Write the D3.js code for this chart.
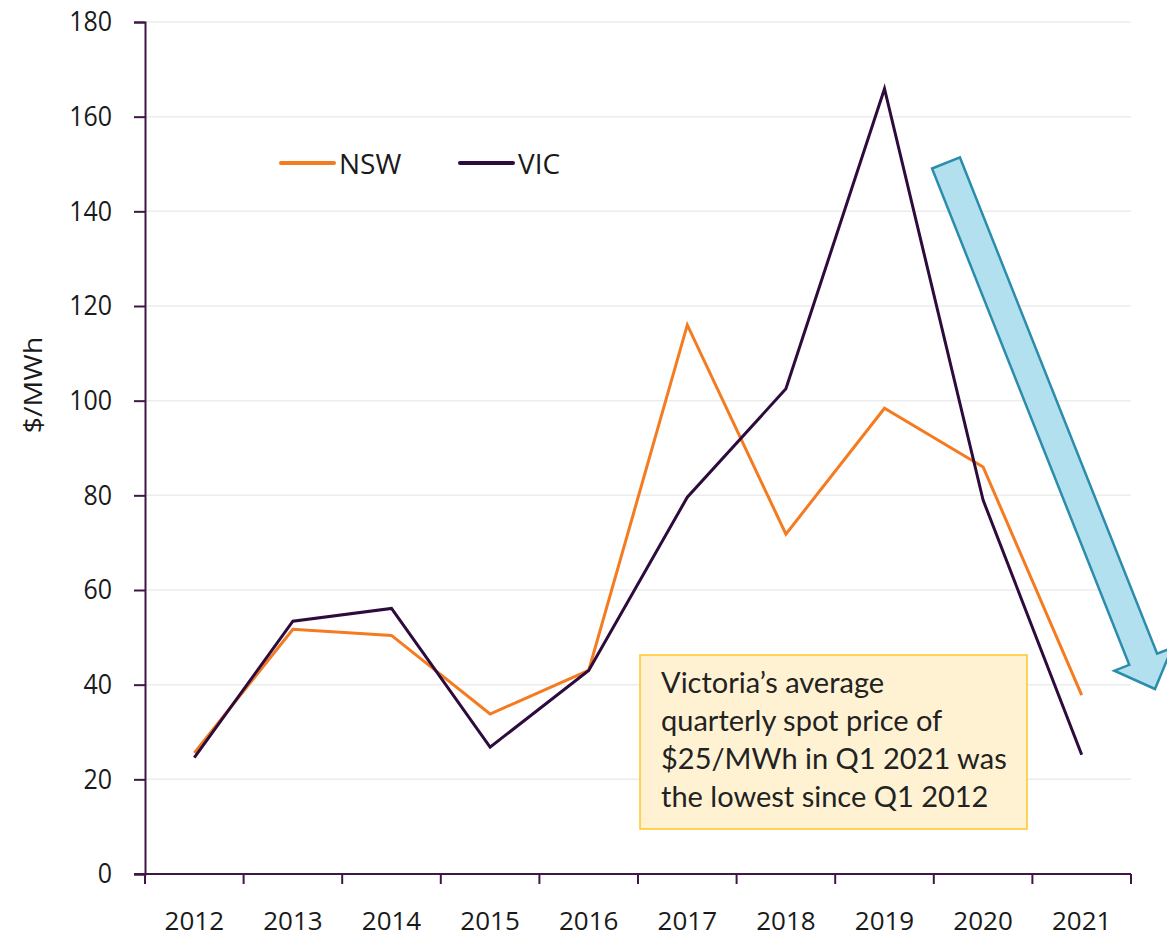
<!DOCTYPE html>
<html>
<head>
<meta charset="utf-8">
<script src="https://cdn.jsdelivr.net/npm/d3@7/dist/d3.min.js"></script>
<style>
  html, body { margin: 0; padding: 0; background: #ffffff; }
  svg { display: block; }
</style>
</head>
<body>
<script>
const years = ["2012","2013","2014","2015","2016","2017","2018","2019","2020","2021"];
const nswValues = [25.6, 51.7, 50.4, 33.8, 43.0, 116.0, 71.8, 98.4, 86.0, 37.8];
const vicValues = [24.6, 53.4, 56.1, 26.8, 43.0, 79.6, 102.5, 165.9, 79.0, 25.2];
const yTicks = [0, 20, 40, 60, 80, 100, 120, 140, 160, 180];
const seriesNames = ["NSW", "VIC"];
const seriesColors = ["#f47b20", "#2d0b3c"];
const noteLines = ["Victoria\u2019s average", "quarterly spot price of", "$25/MWh in Q1 2021 was", "the lowest since Q1 2012"];
const yTitle = "$/MWh";

const W = 1167, H = 938;
const margin = { left: 145, right: 36, top: 22, bottom: 64 };
const svg = d3.select("body").append("svg").attr("width", W).attr("height", H);

const x = d3.scaleBand().domain(years).range([margin.left, W - margin.right]).padding(0);
const y = d3.scaleLinear().domain([0, 180]).range([H - margin.bottom, margin.top]);
const axisColor = "#3e1745";
const labelFont = "'Open Sans', 'Noto Sans', sans-serif";

// gridlines
svg.append("g").selectAll("line").data(yTicks.filter(d => d > 0)).join("line")
  .attr("x1", margin.left).attr("x2", W - margin.right)
  .attr("y1", d => y(d)).attr("y2", d => y(d))
  .attr("stroke", "#ececec").attr("stroke-width", 1.5);

// y axis
const yAxis = svg.append("g").attr("transform", `translate(${margin.left},0)`)
  .call(d3.axisLeft(y).tickValues(yTicks).tickSize(11).tickPadding(22));
yAxis.select(".domain").attr("stroke", axisColor).attr("stroke-width", 2);
yAxis.selectAll(".tick line").attr("stroke", axisColor).attr("stroke-width", 2);
yAxis.selectAll(".tick text").attr("font-family", labelFont).attr("font-size", 25)
  .attr("fill", "#1a1a1a").style("transform", "scaleY(1.12)");

// x axis
const xAxisG = svg.append("g").attr("transform", `translate(0,${y(0)})`);
xAxisG.append("line").attr("x1", margin.left - 11).attr("x2", W - margin.right)
  .attr("y1", 0).attr("y2", 0).attr("stroke", axisColor).attr("stroke-width", 2);
const bounds = years.map(d => x(d)).concat([x(years[years.length - 1]) + x.bandwidth()]);
xAxisG.selectAll("line.tk").data(bounds).join("line").attr("class", "tk")
  .attr("x1", d => d).attr("x2", d => d).attr("y1", 0).attr("y2", 10)
  .attr("stroke", axisColor).attr("stroke-width", 2);
xAxisG.selectAll("text.lbl").data(years).join("text").attr("class", "lbl")
  .attr("x", d => x(d) + x.bandwidth() / 2).attr("y", 56)
  .attr("text-anchor", "middle").attr("font-family", labelFont).attr("font-size", 26)
  .attr("fill", "#1a1a1a").text(d => d);

// y title
svg.append("text").attr("transform", `translate(42,385) rotate(-90) scale(1.1,1)`)
  .attr("text-anchor", "middle").attr("font-family", labelFont).attr("font-size", 26)
  .attr("fill", "#1a1a1a").text(yTitle);

// lines
const line = d3.line().x((d, i) => x(years[i]) + x.bandwidth() / 2).y(d => y(d));
[nswValues, vicValues].forEach((vals, k) => {
  svg.append("path").datum(vals).attr("d", line).attr("fill", "none")
    .attr("stroke", seriesColors[k]).attr("stroke-width", 3).attr("stroke-linejoin", "miter");
});

// legend
const legendX = [281, 460];
seriesNames.forEach((n, k) => {
  const g = svg.append("g").attr("transform", `translate(${legendX[k]},163)`);
  g.append("line").attr("x1", 0).attr("x2", 53).attr("y1", 0).attr("y2", 0)
    .attr("stroke", seriesColors[k]).attr("stroke-width", 4).attr("stroke-linecap", "round");
  g.append("text").attr("x", 58).attr("y", 11).attr("font-family", labelFont)
    .attr("font-size", 28).attr("fill", "#1a1a1a").text(n);
});

// arrow annotation
(function(){
  const T = [946, 163], P = [1155, 689];
  const dx = P[0] - T[0], dy = P[1] - T[1], L = Math.hypot(dx, dy);
  const u = [dx / L, dy / L], n = [-u[1], u[0]];
  const sw = 15, hw = 31, hl = 32;
  const pt = (a, b) => [T[0] + u[0] * a + n[0] * b, T[1] + u[1] * a + n[1] * b];
  const pts = [pt(0, -sw), pt(L - hl, -sw), pt(L - hl, -hw), pt(L, 0), pt(L - hl, hw), pt(L - hl, sw), pt(0, sw)];
  svg.append("path").attr("d", d3.line()(pts) + "Z")
    .attr("fill", "#b3e0ee").attr("stroke", "#2a8dab").attr("stroke-width", 2.5)
    .attr("stroke-linejoin", "miter");
})();

// note box
const note = svg.append("g");
note.append("rect").attr("x", 640).attr("y", 655).attr("width", 387).attr("height", 174)
  .attr("fill", "#fff2d3").attr("stroke", "#ffc628").attr("stroke-width", 1.5);
note.selectAll("text").data(noteLines).join("text")
  .attr("x", 661).attr("y", (d, i) => 693 + i * 38)
  .attr("font-family", "Lato, 'Open Sans', sans-serif").attr("font-size", 29)
  .attr("fill", "#222").text(d => d);
</script>
</body>
</html>
